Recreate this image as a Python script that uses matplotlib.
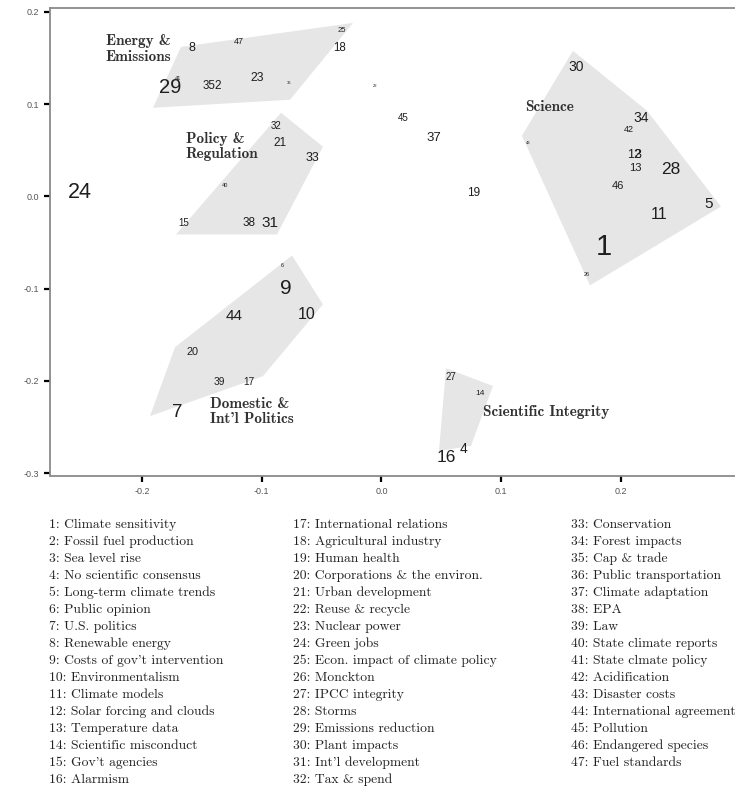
import matplotlib
matplotlib.use("Agg")
import matplotlib.pyplot as plt
import numpy as np

plt.rcParams['axes.unicode_minus'] = False

# ---- data ----
topic_ids = list(range(1, 48))
topic_names = [
    "Climate sensitivity", "Fossil fuel production", "Sea level rise", "No scientific consensus",
    "Long-term climate trends", "Public opinion", "U.S. politics", "Renewable energy",
    "Costs of gov't intervention", "Environmentalism", "Climate models", "Solar forcing and clouds",
    "Temperature data", "Scientific misconduct", "Gov't agencies", "Alarmism",
    "International relations", "Agricultural industry", "Human health", "Corporations & the environ.",
    "Urban development", "Reuse & recycle", "Nuclear power", "Green jobs",
    "Econ. impact of climate policy", "Monckton", "IPCC integrity", "Storms",
    "Emissions reduction", "Plant impacts", "Int'l development", "Tax & spend",
    "Conservation", "Forest impacts", "Cap & trade", "Public transportation",
    "Climate adaptation", "EPA", "Law", "State climate reports",
    "State clmate policy", "Acidification", "Disaster costs", "International agreement",
    "Pollution", "Endangered species", "Fuel standards",
]
topic_x = [0.1858, -0.1365, 0.2142, 0.0689, 0.2731, -0.0831, -0.1708, -0.1582, -0.0797, -0.0622,
           0.2317, 0.2109, 0.2117, 0.0823, -0.1649, 0.0539, -0.1106, -0.0347, 0.0772, -0.1574,
           -0.0848, -0.0054, -0.1040, -0.2518, -0.0330, 0.1716, 0.0580, 0.2418, -0.1766, 0.1624,
           -0.0931, -0.0881, -0.0580, 0.2167, -0.1441, -0.0772, 0.0438, -0.1106, -0.1357, -0.1307,
           -0.1699, 0.2062, 0.1223, -0.1232, 0.0180, 0.1975, -0.1190]
topic_y = [-0.0545, 0.1199, 0.0452, -0.2743, -0.0078, -0.0749, -0.2342, 0.1610, -0.0998, -0.1279,
           -0.0197, 0.0452, 0.0311, -0.2135, -0.0294, -0.2830, -0.2013, 0.1610, 0.0041, -0.1688,
           0.0582, 0.1199, 0.1286, 0.0041, 0.1794, -0.0846, -0.1959, 0.0290, 0.1177, 0.1405,
           -0.0294, 0.0766, 0.0420, 0.0853, 0.1199, 0.1231, 0.0636, -0.0294, -0.2013, 0.0117,
           0.1275, 0.0723, 0.0582, -0.1301, 0.0853, 0.0117, 0.1675]
# label size (relative prominence, in points)
topic_size = [21, 8.5, 9, 10, 11, 4, 13.5, 9, 15, 11.5,
              11.5, 9, 8, 6, 7, 12.5, 7.3, 8.3, 8.5, 7.8,
              8.5, 3, 8.7, 15.5, 5.5, 4, 7, 12.5, 14.5, 10,
              11, 7, 9, 10, 8.3, 3, 9.5, 8.5, 7.3, 4,
              4, 6.5, 3, 11, 7, 8, 6.5]

clusters = {
    "Energy &\nEmissions": {
        "hull_x": [-0.1908, -0.1674, -0.0238, -0.0764],
        "hull_y": [0.0961, 0.1621, 0.1881, 0.1048],
        "label_xy": (-0.2301, 0.1600),
    },
    "Policy &\nRegulation": {
        "hull_x": [-0.0839, -0.0489, -0.0873, -0.1716],
        "hull_y": [0.0907, 0.0539, -0.0413, -0.0413],
        "label_xy": (-0.1633, 0.0539),
    },
    "Science": {
        "hull_x": [0.1599, 0.2217, 0.2835, 0.1741, 0.1173],
        "hull_y": [0.1578, 0.0929, -0.0110, -0.0965, 0.0658],
        "label_xy": (0.1198, 0.0972),
    },
    "Domestic &\nInt'l Politics": {
        "hull_x": [-0.0747, -0.0489, -0.0990, -0.1933, -0.1724],
        "hull_y": [-0.0641, -0.1171, -0.1950, -0.2383, -0.1636],
        "label_xy": (-0.1432, -0.2334),
    },
    "Scientific Integrity": {
        "hull_x": [0.0539, 0.0931, 0.0747, 0.0480],
        "hull_y": [-0.1864, -0.2056, -0.2706, -0.2762],
        "label_xy": (0.0848, -0.2340),
    },
}

x_ticks = [-0.2, -0.1, 0.0, 0.1, 0.2]
y_ticks = [0.2, 0.1, 0.0, -0.1, -0.2, -0.3]

# ---- figure ----
W, H = 735, 789
fig = plt.figure(figsize=(W / 100, H / 100), dpi=100)
ax_left, ax_right, ax_top, ax_bot = 50, 735, 8, 475.5
ax = fig.add_axes([ax_left / W, 1 - ax_bot / H, (ax_right - ax_left) / W, (ax_bot - ax_top) / H])
ax.set_xlim(-0.2768, 0.2952)
ax.set_ylim(-0.3027, 0.2043)

for name, c in clusters.items():
    ax.fill(c["hull_x"], c["hull_y"], color="#e6e6e6", lw=0, zorder=1)
    ax.text(c["label_xy"][0], c["label_xy"][1], name, family="cmb10", fontsize=11,
            color="#333333", ha="left", va="center", linespacing=1.12, zorder=3)

for i, x, y, s in zip(topic_ids, topic_x, topic_y, topic_size):
    ax.text(x, y, str(i), family="Liberation Sans", fontsize=s, color="#1e1e1e",
            ha="center", va="center", zorder=4)

ax.set_xticks(x_ticks)
ax.set_yticks(y_ticks)
ax.set_xticklabels([f"{t:.1f}" for t in x_ticks])
ax.set_yticklabels([f"{t:.1f}" for t in y_ticks])
ax.tick_params(direction="out", length=4.5, width=1.6, color="black",
               labelsize=6.5, labelcolor="#555555", pad=3.5)
for lab in ax.get_xticklabels() + ax.get_yticklabels():
    lab.set_family("Liberation Sans")
for sp in ["left", "bottom", "top"]:
    ax.spines[sp].set_color("#8a8a8a")
    ax.spines[sp].set_linewidth(1.3)
ax.spines["right"].set_visible(False)

# ---- legend text columns ----
col_x = [49, 293, 571]
col_ranges = [(1, 16), (17, 32), (33, 47)]
row0, drow = 525, 17.0
for cx, (a, b) in zip(col_x, col_ranges):
    for k, tid in enumerate(range(a, b + 1)):
        fig.text(cx / W, 1 - (row0 + k * drow) / H, f"{tid}: {topic_names[tid - 1]}",
                 family="cmr10", fontsize=9.8, color="#222222", ha="left", va="center")

fig.savefig("out.png", dpi=100)
